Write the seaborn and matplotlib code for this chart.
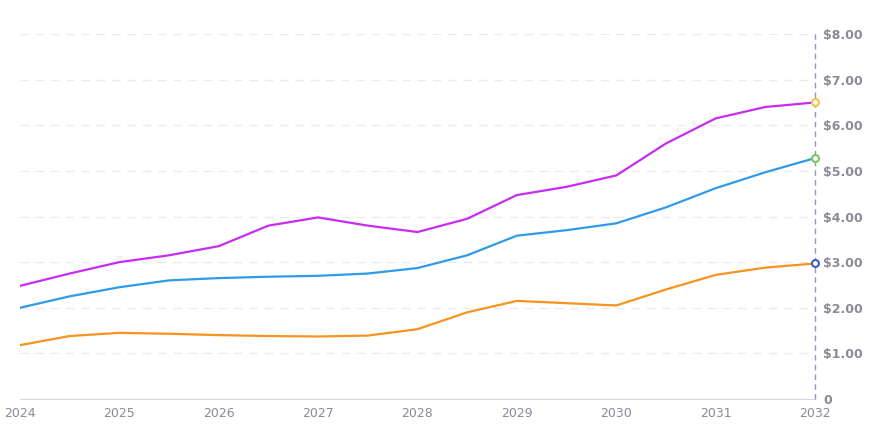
import numpy as np
import pandas as pd
import matplotlib
matplotlib.use("Agg")
import matplotlib.pyplot as plt
import seaborn as sns

years = [2024, 2024.5, 2025, 2025.5, 2026, 2026.5, 2027, 2027.5, 2028,
         2028.5, 2029, 2029.5, 2030, 2030.5, 2031, 2031.5, 2032]
purple_vals = [2.48, 2.75, 3.0, 3.15, 3.35, 3.8, 3.98, 3.8, 3.66,
               3.95, 4.47, 4.65, 4.9, 5.6, 6.15, 6.4, 6.5]
blue_vals = [2.0, 2.25, 2.45, 2.6, 2.65, 2.68, 2.7, 2.75, 2.87,
             3.15, 3.58, 3.7, 3.85, 4.2, 4.62, 4.97, 5.28]
orange_vals = [1.18, 1.38, 1.45, 1.43, 1.4, 1.38, 1.37, 1.39, 1.53,
               1.9, 2.15, 2.1, 2.05, 2.4, 2.72, 2.88, 2.97]
y_ticks = [0, 1, 2, 3, 4, 5, 6, 7, 8]
y_labels = ["0", "$1.00", "$2.00", "$3.00", "$4.00", "$5.00", "$6.00", "$7.00", "$8.00"]
x_ticks = list(range(2024, 2033))

series = [
    (purple_vals, "#c72cf0", "#f5c242"),
    (blue_vals, "#2f9be8", "#7dc460"),
    (orange_vals, "#f7931e", "#3a5fc9"),
]

sns.set_style("white")
fig = plt.figure(figsize=(8.95, 4.3), dpi=100)
ax = fig.add_axes([20 / 895, 31 / 430, 795 / 895, 365 / 430])

ax.axvline(2032, color="#8f95c4", linestyle=(0, (4, 3)), linewidth=1, zorder=3, clip_on=False)
for t in y_ticks[1:]:
    ax.axhline(t, color="#ebebef", linestyle=(0, (6, 5)), linewidth=1, zorder=0)

for vals, col, mcol in series:
    df = pd.DataFrame({"year": years, "value": vals})
    sns.lineplot(data=df, x="year", y="value", color=col, linewidth=1.6, ax=ax)
    ax.plot(years[-1], vals[-1], "o", ms=5, mfc="white", mec=mcol, mew=1.5,
            zorder=6, clip_on=False)

ax.set_xlim(2024, 2032)
ax.set_ylim(0, 8)
ax.set_xticks(x_ticks)
ax.set_xticklabels([str(x) for x in x_ticks], color="#8a8a99", fontsize=9)
ax.yaxis.tick_right()
ax.set_yticks(y_ticks)
ax.set_yticklabels(y_labels, color="#8a8a99", fontsize=9, fontweight="bold")
ax.tick_params(axis="y", length=0, pad=6)
ax.tick_params(axis="x", length=0, pad=6)
ax.set_xlabel("")
ax.set_ylabel("")
for s in ["top", "right", "left"]:
    ax.spines[s].set_visible(False)
ax.spines["bottom"].set_color("#d8d8e0")

fig.savefig("out.png", dpi=100)
